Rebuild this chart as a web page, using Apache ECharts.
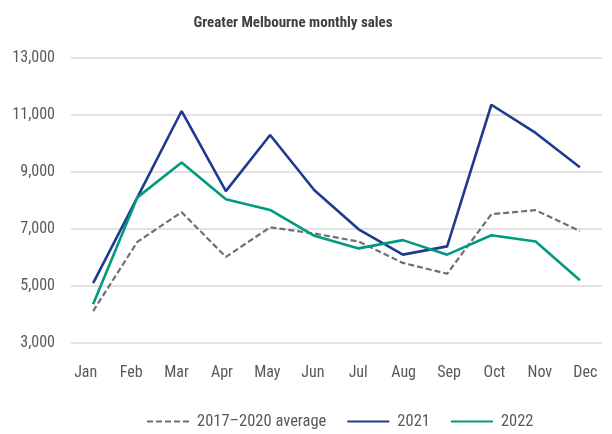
<!DOCTYPE html>
<html><head><meta charset="utf-8">
<script src="https://cdn.jsdelivr.net/npm/echarts@6/dist/echarts.min.js"></script>
<style>html,body{margin:0;padding:0;background:#fff}#c{width:612px;height:434px}</style>
</head><body><div id="c"></div>
<script>
const categories = ['Jan','Feb','Mar','Apr','May','Jun','Jul','Aug','Sep','Oct','Nov','Dec'];
const avg2017_2020 = [4120, 6550, 7590, 6020, 7060, 6840, 6560, 5810, 5430, 7520, 7660, 6930];
const sales2021 = [5100, 8110, 11140, 8330, 10300, 8360, 6990, 6100, 6390, 11360, 10370, 9170];
const sales2022 = [4360, 8110, 9330, 8040, 7670, 6760, 6320, 6610, 6100, 6780, 6560, 5200];
const yTicks = [3000, 5000, 7000, 9000, 11000, 13000];

const font = '"Liberation Sans Narrow", "Arial Narrow", "Roboto Condensed", "Liberation Sans", sans-serif';
const chart = echarts.init(document.getElementById('c'), null, {renderer: 'canvas'});
chart.setOption({
  animation: false,
  backgroundColor: '#fff',
  title: {
    text: 'Greater Melbourne monthly sales',
    left: 288, top: 11, textAlign: 'center',
    textStyle: {fontFamily: font, fontWeight: 'bold', fontSize: 15, color: '#404040'}
  },
  grid: [
    {left: 71, right: 10, top: 58, bottom: 91, containLabel: false},
    {left: 63, right: 4, top: 58, bottom: 91, containLabel: false}
  ],
  legend: {
    top: 408, left: 141,
    itemWidth: 42, itemHeight: 10, itemGap: 20,
    itemStyle: {opacity: 0},
    textStyle: {fontFamily: font, fontSize: 16.5, color: '#595959', padding: [0, 0, 0, 3]},
    data: ['2017–2020 average', '2021', '2022']
  },
  xAxis: [
    {type: 'category', data: categories, boundaryGap: true, gridIndex: 0,
     axisLine: {show: false}, axisTick: {show: false}, axisLabel: {show: false}},
    {type: 'category', data: categories, boundaryGap: true, gridIndex: 1,
     axisLine: {show: false}, axisTick: {show: false},
     axisLabel: {fontFamily: font, fontSize: 16, color: '#595959', margin: 22}}
  ],
  yAxis: [
    {type: 'value', min: yTicks[0], max: yTicks[yTicks.length-1], interval: 2000, gridIndex: 0,
     axisLine: {show: false}, axisTick: {show: false},
     axisLabel: {fontFamily: font, fontSize: 16, color: '#595959', margin: 16,
       formatter: v => v.toLocaleString('en-US')},
     splitLine: {lineStyle: {color: '#d9d9d9', width: 1.5}}},
    {type: 'value', min: yTicks[0], max: yTicks[yTicks.length-1], gridIndex: 1, show: false}
  ],
  series: [
    {name: '2017–2020 average', type: 'line', data: avg2017_2020, symbol: 'none',
     lineStyle: {color: '#6f6f6f', width: 2.2, type: [6, 3]}, itemStyle: {color: '#6f6f6f'}},
    {name: '2021', type: 'line', data: sales2021, symbol: 'none',
     lineStyle: {color: '#1f3a8f', width: 2.6}, itemStyle: {color: '#1f3a8f'}},
    {name: '2022', type: 'line', data: sales2022, symbol: 'none',
     lineStyle: {color: '#009a7e', width: 2.6}, itemStyle: {color: '#009a7e'}}
  ]
});
</script></body></html>
